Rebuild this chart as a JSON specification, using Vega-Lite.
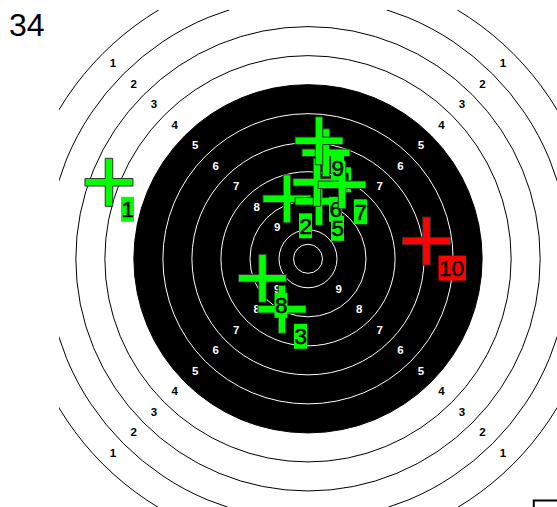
{
  "$schema": "https://vega.github.io/schema/vega-lite/v6.json",
  "width": 498,
  "height": 497,
  "autosize": {"type": "none"},
  "padding": {"left": 59, "top": 10, "right": 0, "bottom": 0},
  "background": "white",
  "title": {"text": "34", "anchor": "start", "frame": "group", "orient": "top", "fontSize": 32, "fontWeight": "normal", "font": "Liberation Sans", "color": "black", "dx": -50, "offset": -58, "baseline": "alphabetic"},
  "config": {"view": {"stroke": null}, "font": "Liberation Sans"},
  "datasets": {
    "rings": [
      {"ring": 1, "r": 500}, {"ring": 2, "r": 450}, {"ring": 3, "r": 400}, {"ring": 4, "r": 350},
      {"ring": 5, "r": 300}, {"ring": 6, "r": 250}, {"ring": 7, "r": 200}, {"ring": 8, "r": 150},
      {"ring": 9, "r": 100}, {"ring": 10, "r": 50}, {"ring": 11, "r": 25}
    ],
    "labels": [
      {"score": 1, "x": -335.9, "y": 335.9}, {"score": 1, "x": 335.9, "y": 335.9}, {"score": 1, "x": -335.9, "y": -335.9}, {"score": 1, "x": 335.9, "y": -335.9},
      {"score": 2, "x": -300.5, "y": 300.5}, {"score": 2, "x": 300.5, "y": 300.5}, {"score": 2, "x": -300.5, "y": -300.5}, {"score": 2, "x": 300.5, "y": -300.5},
      {"score": 3, "x": -265.2, "y": 265.2}, {"score": 3, "x": 265.2, "y": 265.2}, {"score": 3, "x": -265.2, "y": -265.2}, {"score": 3, "x": 265.2, "y": -265.2},
      {"score": 4, "x": -229.8, "y": 229.8}, {"score": 4, "x": 229.8, "y": 229.8}, {"score": 4, "x": -229.8, "y": -229.8}, {"score": 4, "x": 229.8, "y": -229.8},
      {"score": 5, "x": -194.5, "y": 194.5}, {"score": 5, "x": 194.5, "y": 194.5}, {"score": 5, "x": -194.5, "y": -194.5}, {"score": 5, "x": 194.5, "y": -194.5},
      {"score": 6, "x": -159.1, "y": 159.1}, {"score": 6, "x": 159.1, "y": 159.1}, {"score": 6, "x": -159.1, "y": -159.1}, {"score": 6, "x": 159.1, "y": -159.1},
      {"score": 7, "x": -123.7, "y": 123.7}, {"score": 7, "x": 123.7, "y": 123.7}, {"score": 7, "x": -123.7, "y": -123.7}, {"score": 7, "x": 123.7, "y": -123.7},
      {"score": 8, "x": -88.4, "y": 88.4}, {"score": 8, "x": 88.4, "y": 88.4}, {"score": 8, "x": -88.4, "y": -88.4}, {"score": 8, "x": 88.4, "y": -88.4},
      {"score": 9, "x": -53.0, "y": 53.0}, {"score": 9, "x": 53.0, "y": 53.0}, {"score": 9, "x": -53.0, "y": -53.0}, {"score": 9, "x": 53.0, "y": -53.0}
    ],
    "shots": [
      {"shot": 1, "x": -342.9, "y": 131.9},
      {"shot": 2, "x": -36.2, "y": 103.4},
      {"shot": 3, "x": -44.8, "y": -87.1},
      {"shot": 4, "x": 31.0, "y": 182.8},
      {"shot": 5, "x": 19.0, "y": 99.1},
      {"shot": 6, "x": 15.5, "y": 131.9},
      {"shot": 7, "x": 58.6, "y": 127.6},
      {"shot": 8, "x": -78.4, "y": -33.6},
      {"shot": 9, "x": 19.0, "y": 203.4},
      {"shot": 10, "x": 204.2, "y": 30.5}
    ],
    "panel": [
      {"x1": 389, "x2": 520, "y1": -417, "y2": -520}
    ]
  },
  "layer": [
    {
      "data": {"name": "rings"},
      "transform": [{"filter": "datum.r == 300"}],
      "mark": {"type": "arc", "theta": 0, "theta2": 6.2832, "fill": "black", "clip": true},
      "encoding": {
        "x": {"datum": 0, "type": "quantitative", "scale": {"domain": [-429, 429], "nice": false, "zero": false}, "axis": null},
        "y": {"datum": 0, "type": "quantitative", "scale": {"domain": [-428, 429], "nice": false, "zero": false}, "axis": null},
        "radius": {"field": "r", "type": "quantitative", "stack": null, "scale": {"type": "linear", "domain": [0, 429], "range": [0, 249], "zero": true, "nice": false}}
      }
    },
    {
      "data": {"name": "rings"},
      "mark": {"type": "arc", "theta": 0, "theta2": 6.2832, "filled": false, "strokeWidth": 1, "clip": true},
      "encoding": {
        "x": {"datum": 0, "type": "quantitative", "scale": {"domain": [-429, 429], "nice": false, "zero": false}, "axis": null},
        "y": {"datum": 0, "type": "quantitative", "scale": {"domain": [-428, 429], "nice": false, "zero": false}, "axis": null},
        "radius": {"field": "r", "type": "quantitative", "stack": null, "scale": {"type": "linear", "domain": [0, 429], "range": [0, 249], "zero": true, "nice": false}},
        "stroke": {"condition": {"test": "datum.r >= 300", "value": "black"}, "value": "white"}
      }
    },
    {
      "data": {"name": "labels"},
      "mark": {"type": "text", "fontSize": 11.5, "fontWeight": "bold", "align": "center", "baseline": "middle", "clip": true},
      "encoding": {
        "x": {"field": "x", "type": "quantitative", "scale": {"domain": [-429, 429], "nice": false, "zero": false}, "axis": null},
        "y": {"field": "y", "type": "quantitative", "scale": {"domain": [-428, 429], "nice": false, "zero": false}, "axis": null},
        "text": {"field": "score", "type": "nominal"},
        "color": {"condition": {"test": "datum.score >= 5", "value": "white"}, "value": "black"}
      }
    },
    {
      "data": {"name": "shots"},
      "transform": [{"filter": "datum.shot <= 6"}],
      "mark": {"type": "point", "shape": "M-24,-3.75H-3.75V-24H3.75V-3.75H24V3.75H3.75V24H-3.75V3.75H-24Z", "size": 4, "filled": true, "opacity": 1, "stroke": "#333333", "strokeWidth": 1},
      "encoding": {
        "x": {"field": "x", "type": "quantitative", "scale": {"domain": [-429, 429], "nice": false, "zero": false}, "axis": null},
        "y": {"field": "y", "type": "quantitative", "scale": {"domain": [-428, 429], "nice": false, "zero": false}, "axis": null},
        "color": {"condition": {"test": "datum.shot == 10", "value": "#ff0000"}, "value": "#00ff00"}
      }
    },
    {
      "data": {"name": "shots"},
      "transform": [{"filter": "datum.shot <= 6"}],
      "mark": {"type": "point", "size": 4, "filled": true, "opacity": 1, "strokeWidth": 0},
      "encoding": {
        "x": {"field": "x", "type": "quantitative", "scale": {"domain": [-429, 429], "nice": false, "zero": false}, "axis": null},
        "y": {"field": "y", "type": "quantitative", "scale": {"domain": [-428, 429], "nice": false, "zero": false}, "axis": null},
        "shape": {"condition": {"test": "datum.shot >= 10", "value": "M12,14.5H39.5V39.5H12Z"}, "value": "M12,14.5H25V39.5H12Z"},
        "color": {"condition": {"test": "datum.shot == 10", "value": "#ff0000"}, "value": "#00ff00"}
      }
    },
    {
      "data": {"name": "shots"},
      "transform": [{"filter": "datum.shot <= 6"}],
      "mark": {"type": "text", "fontSize": 22.5, "align": "left", "baseline": "alphabetic", "dx": 12.5, "dy": 35, "color": "black", "stroke": "black", "strokeWidth": 0.5},
      "encoding": {
        "x": {"field": "x", "type": "quantitative", "scale": {"domain": [-429, 429], "nice": false, "zero": false}, "axis": null},
        "y": {"field": "y", "type": "quantitative", "scale": {"domain": [-428, 429], "nice": false, "zero": false}, "axis": null},
        "text": {"field": "shot", "type": "nominal"}
      }
    },
    {
      "data": {"name": "shots"},
      "transform": [{"filter": "datum.shot > 6"}],
      "mark": {"type": "point", "shape": "M-24,-3.75H-3.75V-24H3.75V-3.75H24V3.75H3.75V24H-3.75V3.75H-24Z", "size": 4, "filled": true, "opacity": 1, "stroke": "#333333", "strokeWidth": 1},
      "encoding": {
        "x": {"field": "x", "type": "quantitative", "scale": {"domain": [-429, 429], "nice": false, "zero": false}, "axis": null},
        "y": {"field": "y", "type": "quantitative", "scale": {"domain": [-428, 429], "nice": false, "zero": false}, "axis": null},
        "color": {"condition": {"test": "datum.shot == 10", "value": "#ff0000"}, "value": "#00ff00"}
      }
    },
    {
      "data": {"name": "shots"},
      "transform": [{"filter": "datum.shot > 6"}],
      "mark": {"type": "point", "size": 4, "filled": true, "opacity": 1, "strokeWidth": 0},
      "encoding": {
        "x": {"field": "x", "type": "quantitative", "scale": {"domain": [-429, 429], "nice": false, "zero": false}, "axis": null},
        "y": {"field": "y", "type": "quantitative", "scale": {"domain": [-428, 429], "nice": false, "zero": false}, "axis": null},
        "shape": {"condition": {"test": "datum.shot >= 10", "value": "M12,14.5H39.5V39.5H12Z"}, "value": "M12,14.5H25V39.5H12Z"},
        "color": {"condition": {"test": "datum.shot == 10", "value": "#ff0000"}, "value": "#00ff00"}
      }
    },
    {
      "data": {"name": "shots"},
      "transform": [{"filter": "datum.shot > 6"}],
      "mark": {"type": "text", "fontSize": 22.5, "align": "left", "baseline": "alphabetic", "dx": 12.5, "dy": 35, "color": "black", "stroke": "black", "strokeWidth": 0.5},
      "encoding": {
        "x": {"field": "x", "type": "quantitative", "scale": {"domain": [-429, 429], "nice": false, "zero": false}, "axis": null},
        "y": {"field": "y", "type": "quantitative", "scale": {"domain": [-428, 429], "nice": false, "zero": false}, "axis": null},
        "text": {"field": "shot", "type": "nominal"}
      }
    },
    {
      "data": {"name": "panel"},
      "mark": {"type": "rect", "fill": "white", "stroke": "black", "strokeWidth": 2, "clip": true},
      "encoding": {
        "x": {"field": "x1", "type": "quantitative", "scale": {"domain": [-429, 429], "nice": false, "zero": false}, "axis": null},
        "x2": {"field": "x2"},
        "y": {"field": "y1", "type": "quantitative", "scale": {"domain": [-428, 429], "nice": false, "zero": false}, "axis": null},
        "y2": {"field": "y2"}
      }
    }
  ]
}
